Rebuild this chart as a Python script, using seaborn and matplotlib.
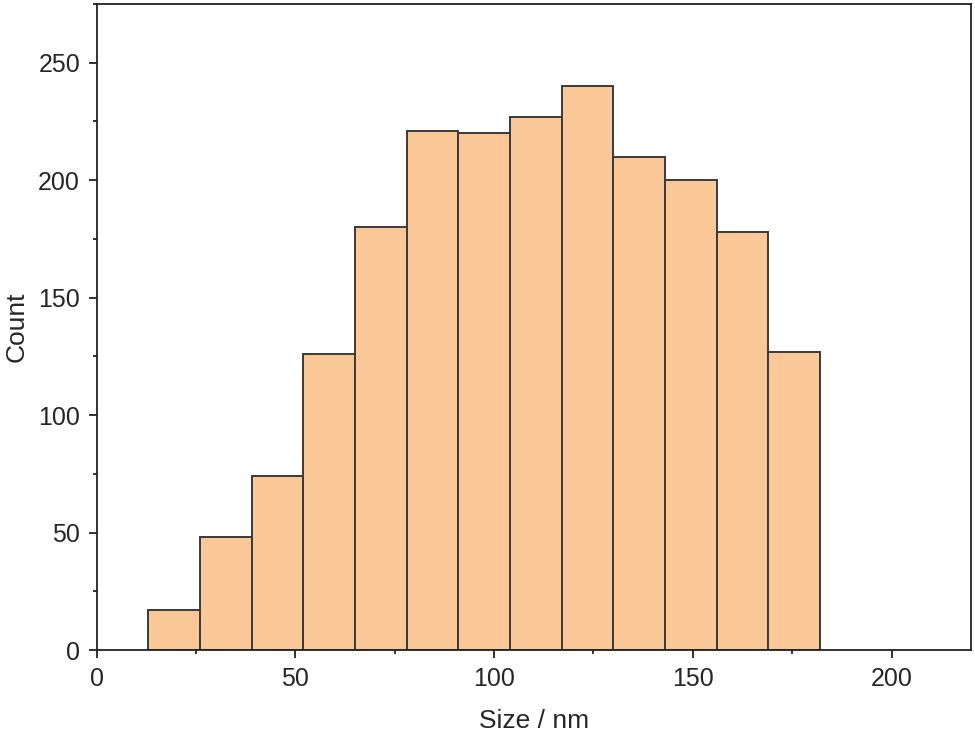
import numpy as np
import pandas as pd
import seaborn as sns
import matplotlib.pyplot as plt
from matplotlib.ticker import MultipleLocator

# bins (largura 13 nm)
bin_edges = [13, 26, 39, 52, 65, 78, 91, 104, 117, 130, 143, 156, 169, 182]
contagens = [17, 48, 74, 126, 180, 221, 220, 227, 240, 210, 200, 178, 127]

COR_BARRA = '#F9C896'
COR_BORDA = '#3A3A3A'
COR_TEXTO = '#262626'

sns.set_theme(style="ticks")
plt.rcParams['font.family'] = ['Liberation Sans', 'DejaVu Sans']

centros = [(a + b) / 2 for a, b in zip(bin_edges[:-1], bin_edges[1:])]
df = pd.DataFrame({'size': centros, 'count': contagens})

fig = plt.figure(figsize=(9.75, 7.36), dpi=100)
ax = fig.add_axes([0.0992, 0.1168, 0.8967, 0.8778])

sns.histplot(
    data=df, x='size', weights='count', bins=bin_edges,
    color=COR_BARRA, alpha=1, edgecolor=COR_BORDA, linewidth=1.4,
    ax=ax
)

ax.set_xlim(0, 220)
ax.set_ylim(0, 275)
ax.xaxis.set_major_locator(MultipleLocator(50))
ax.xaxis.set_minor_locator(MultipleLocator(25))
ax.yaxis.set_major_locator(MultipleLocator(50))
ax.yaxis.set_minor_locator(MultipleLocator(25))

for lado in ['top', 'right', 'left', 'bottom']:
    ax.spines[lado].set_visible(True)
    ax.spines[lado].set_linewidth(1.3)
    ax.spines[lado].set_color('#222222')

ax.tick_params(which='major', direction='out', length=6, width=1.3,
               colors='#222222', labelcolor=COR_TEXTO, labelsize=18, pad=6)
ax.tick_params(which='minor', direction='out', length=3, width=1.3,
               colors='#222222')
ax.tick_params(top=False, right=False, which='both')

ax.set_xlabel('Size / nm', fontsize=19, color=COR_TEXTO, labelpad=13)
ax.set_ylabel('Count', fontsize=19, color=COR_TEXTO, labelpad=7)

fig.savefig('out.png', dpi=100)
